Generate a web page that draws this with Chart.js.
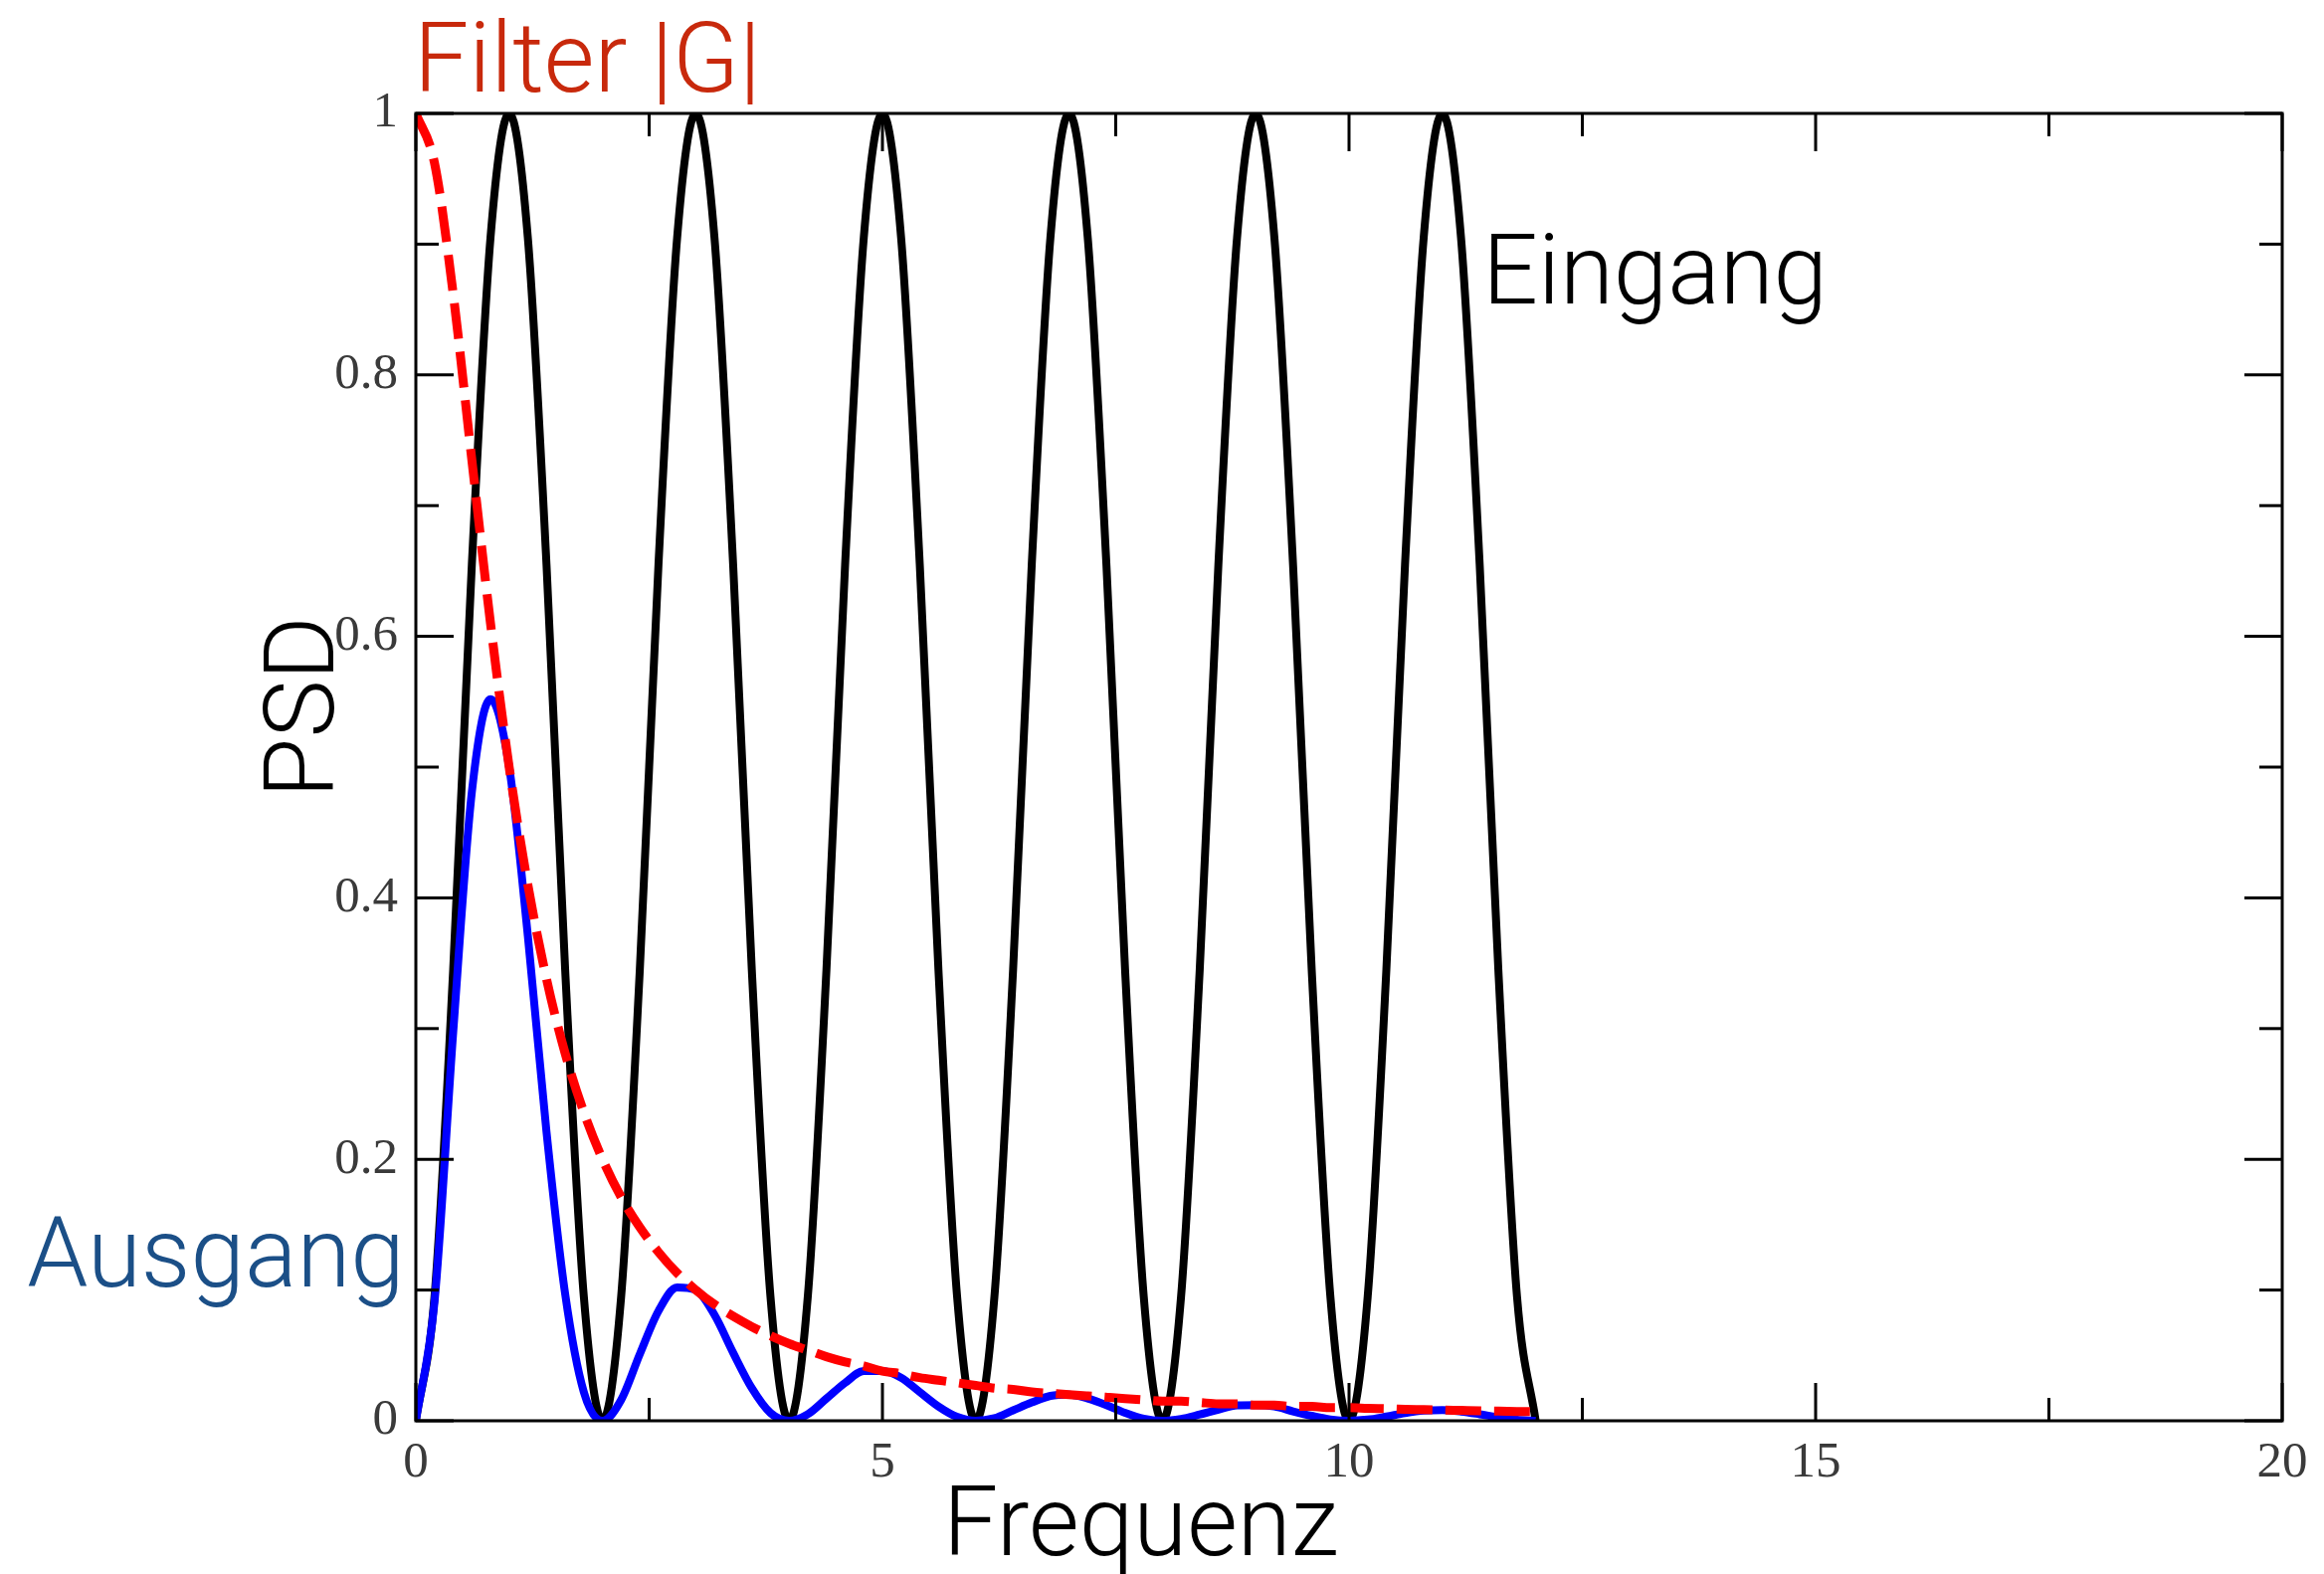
<!DOCTYPE html>
<html>
<head>
<meta charset="utf-8">
<script src="https://cdn.jsdelivr.net/npm/chart.js@4.4.1/dist/chart.umd.min.js"></script>
<style>
  html, body { margin: 0; padding: 0; background: #fff; }
  #wrap { width: 2336px; height: 1582px; position: relative; }
</style>
</head>
<body>
<div id="wrap"><canvas id="psdChart"></canvas></div>
<script>
// Frequenz samples (x)
const freq = [
    0, 0.2, 0.4, 0.6, 0.8, 1, 1.2, 1.4, 1.6, 1.8,
    2, 2.2, 2.4, 2.6, 2.8, 3, 3.2, 3.4, 3.6, 3.8,
    4, 4.2, 4.4, 4.6, 4.8, 5, 5.2, 5.4, 5.6, 5.8,
    6, 6.2, 6.4, 6.6, 6.8, 7, 7.2, 7.4, 7.6, 7.8,
    8, 8.2, 8.4, 8.6, 8.8, 9, 9.2, 9.4, 9.6, 9.8,
    10, 10.2, 10.4, 10.6, 10.8, 11, 11.2, 11.4, 11.6, 11.8,
    12
];

// Eingang (black)
const eingang = [
    0, 0.095, 0.345, 0.655, 0.905, 1, 0.905, 0.655, 0.345, 0.095,
    0, 0.095, 0.345, 0.655, 0.905, 1, 0.905, 0.655, 0.345, 0.095,
    0, 0.095, 0.345, 0.655, 0.905, 1, 0.905, 0.655, 0.345, 0.095,
    0, 0.095, 0.345, 0.655, 0.905, 1, 0.905, 0.655, 0.345, 0.095,
    0, 0.095, 0.345, 0.655, 0.905, 1, 0.905, 0.655, 0.345, 0.095,
    0, 0.095, 0.345, 0.655, 0.905, 1, 0.905, 0.655, 0.345, 0.095,
    0
];

// Filter |G| (red dashed)
const filterG = [
    1, 0.962, 0.862, 0.735, 0.61, 0.5, 0.41, 0.338, 0.281, 0.236,
    0.2, 0.171, 0.148, 0.129, 0.113, 0.1, 0.089, 0.08, 0.072, 0.065,
    0.059, 0.054, 0.049, 0.045, 0.042, 0.038, 0.036, 0.033, 0.031, 0.029,
    0.027, 0.025, 0.024, 0.022, 0.021, 0.02, 0.019, 0.018, 0.017, 0.016,
    0.015, 0.015, 0.014, 0.013, 0.013, 0.012, 0.012, 0.011, 0.011, 0.01,
    0.01, 0.0095, 0.0092, 0.0088, 0.0085, 0.0082, 0.0079, 0.0076, 0.0074, 0.0071,
    0.0069
];

// Ausgang (blue)
const ausgang = [
    0, 0.091, 0.297, 0.481, 0.552, 0.5, 0.371, 0.221, 0.097, 0.022,
    0, 0.016, 0.051, 0.084, 0.102, 0.1, 0.081, 0.052, 0.025, 0.006,
    0, 0.005, 0.017, 0.029, 0.038, 0.038, 0.033, 0.022, 0.011, 0.003,
    0, 0.002, 0.008, 0.014, 0.019, 0.02, 0.017, 0.012, 0.006, 0.0015,
    0, 0.0014, 0.0048, 0.0085, 0.0118, 0.012, 0.0109, 0.0072, 0.0038, 0.001,
    0, 0.0009, 0.0032, 0.0058, 0.0077, 0.0082, 0.0071, 0.005, 0.0026, 0.0007,
    0
];

const xTicks = [0, 5, 10, 15, 20];
const yTicks = [0, 0.2, 0.4, 0.6, 0.8, 1];

const LABEL_FONT = '300 98px Roboto, "Open Sans", "Liberation Sans", sans-serif';
const TICK_FONT = {family: '"Liberation Serif", "DejaVu Serif", serif', size: 51};

function toPoints(values) {
    return freq.map((f, i) => ({x: f, y: values[i]}));
}

// frame with inward major/minor ticks on all four sides
const framePlugin = {
    id: 'frame',
    afterDatasetsDraw(chart) {
        const {ctx, chartArea: a, scales: {x, y}} = chart;
        ctx.save();
        ctx.strokeStyle = '#000';
        ctx.lineWidth = 3;
        ctx.strokeRect(a.left, a.top, a.right - a.left, a.bottom - a.top);

        const tick = (x1, y1, x2, y2) => {
            ctx.beginPath();
            ctx.moveTo(x1, y1);
            ctx.lineTo(x2, y2);
            ctx.stroke();
        };
        const major = 38, minor = 23;
        xTicks.forEach((v, i) => {
            const px = x.getPixelForValue(v);
            tick(px, a.bottom, px, a.bottom - major);
            tick(px, a.top, px, a.top + major);
            if (i < xTicks.length - 1) {
                const mx = x.getPixelForValue((v + xTicks[i + 1]) / 2);
                tick(mx, a.bottom, mx, a.bottom - minor);
                tick(mx, a.top, mx, a.top + minor);
            }
        });
        yTicks.forEach((v, i) => {
            const py = y.getPixelForValue(v);
            tick(a.left, py, a.left + major, py);
            tick(a.right, py, a.right - major, py);
            if (i < yTicks.length - 1) {
                const my = y.getPixelForValue((v + yTicks[i + 1]) / 2);
                tick(a.left, my, a.left + minor, my);
                tick(a.right, my, a.right - minor, my);
            }
        });
        ctx.restore();
    }
};

// curve names and axis titles
const labelPlugin = {
    id: 'labels',
    afterDraw(chart) {
        const {ctx, chartArea: a, scales: {x, y}} = chart;
        ctx.save();
        ctx.font = LABEL_FONT;
        ctx.textBaseline = 'alphabetic';

        ctx.fillStyle = '#c8290c';
        ctx.textAlign = 'left';
        ctx.fillText('Filter |G|', x.getPixelForValue(-0.02), y.getPixelForValue(1.017));

        ctx.fillStyle = '#000';
        ctx.fillText('Eingang', x.getPixelForValue(11.43), y.getPixelForValue(0.855));

        ctx.fillStyle = '#1b4f87';
        ctx.textAlign = 'right';
        ctx.fillText('Ausgang', x.getPixelForValue(-0.12), y.getPixelForValue(0.103));

        ctx.fillStyle = '#000';
        ctx.textAlign = 'left';
        ctx.fillText('Frequenz', x.getPixelForValue(5.65), a.bottom + 135);

        ctx.translate(a.left - 83, y.getPixelForValue(0.546));
        ctx.rotate(-Math.PI / 2);
        ctx.textAlign = 'center';
        ctx.fillText('PSD', 0, 0);
        ctx.restore();
    }
};

const chart = new Chart(document.getElementById('psdChart'), {
    type: 'line',
    data: {
        datasets: [
            {
                label: 'Filter |G|',
                data: toPoints(filterG),
                borderColor: '#ff0000',
                borderWidth: 9,
                borderDash: [36, 13],
                order: 0
            },
            {
                label: 'Ausgang',
                data: toPoints(ausgang),
                borderColor: '#0000ff',
                borderWidth: 8,
                order: 1
            },
            {
                label: 'Eingang',
                data: toPoints(eingang),
                borderColor: '#000000',
                borderWidth: 8,
                order: 2
            }
        ]
    },
    options: {
        responsive: true,
        maintainAspectRatio: false,
        animation: false,
        layout: {padding: {left: 0, right: 42, top: 114, bottom: 0}},
        elements: {
            point: {radius: 0},
            line: {tension: 0, cubicInterpolationMode: 'monotone', fill: false}
        },
        plugins: {
            legend: {display: false},
            tooltip: {enabled: false}
        },
        scales: {
            x: {
                type: 'linear',
                min: 0,
                max: 20,
                afterFit: (scale) => { scale.height = 154; },
                afterBuildTicks: (scale) => { scale.ticks = xTicks.map(v => ({value: v})); },
                grid: {display: false, drawTicks: false},
                border: {display: false},
                ticks: {
                    padding: 12,
                    color: '#3a3a3a',
                    font: TICK_FONT,
                    callback: (v) => String(v)
                }
            },
            y: {
                min: 0,
                max: 1,
                afterFit: (scale) => { scale.width = 418; },
                afterBuildTicks: (scale) => { scale.ticks = yTicks.map(v => ({value: v})); },
                grid: {display: false, drawTicks: false},
                border: {display: false},
                ticks: {
                    padding: 18,
                    color: '#3a3a3a',
                    font: TICK_FONT,
                    callback: (v) => String(v)
                }
            }
        }
    },
    plugins: [framePlugin, labelPlugin]
});
</script>
</body>
</html>
